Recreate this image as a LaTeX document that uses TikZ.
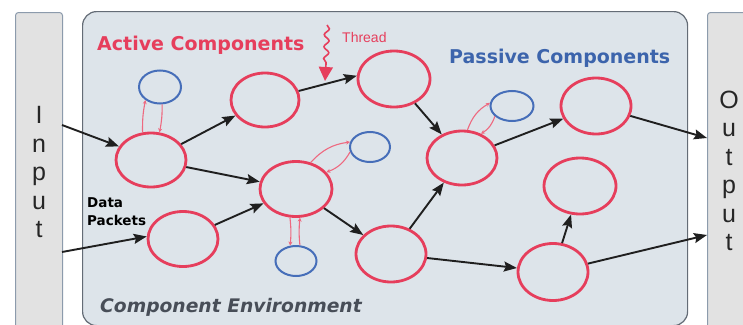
\documentclass[tikz,border=0pt]{standalone}
\usepackage{fontspec}
\newfontfamily\djv{DejaVu Sans}
\newfontfamily\lib{Liberation Sans}
\usetikzlibrary{arrows.meta,decorations.pathmorphing,shapes.geometric}
\definecolor{cred}{RGB}{230,62,92}
\definecolor{clink}{RGB}{238,105,128}
\definecolor{cblue}{RGB}{70,110,185}
\definecolor{ctblue}{RGB}{60,100,172}
\definecolor{envfill}{RGB}{221,228,234}
\definecolor{envdraw}{RGB}{100,108,118}
\definecolor{iofill}{RGB}{226,226,226}
\definecolor{iodraw}{RGB}{140,155,172}
\definecolor{envtext}{RGB}{72,78,88}
\begin{document}
\begin{tikzpicture}[x=1pt,y=-1pt,
  active/.style={ellipse, draw=cred, line width=2.8pt, inner sep=0pt},
  passive/.style={ellipse, draw=cblue, line width=2pt, inner sep=0pt},
  flow/.style={draw=black!88, line width=1.9pt, -{Stealth[length=13pt,width=10pt,inset=2pt]}},
  link/.style={draw=clink, line width=1.1pt, -{Stealth[length=4pt,width=4pt]}},
  iobox/.style={rectangle, draw=iodraw, fill=iofill, line width=1pt, rounded corners=3pt, anchor=north west, inner sep=0pt},
  iotext/.style={font=\lib\fontsize{25}{28.5}\selectfont, align=center, inner sep=0pt, text=black!85},
  title/.style={font=\djv\bfseries\fontsize{19}{22}\selectfont, anchor=base west, inner sep=0pt}
]
\useasboundingbox (0,0) rectangle (743,324);
\fill[white] (0,0) rectangle (743,324);

% boxes
\node[iobox, minimum width=47pt, minimum height=330pt] (In) at (15,12) {};
\node[iobox, minimum width=60pt, minimum height=330pt] (Out) at (707,12) {};
\node[rectangle, draw=envdraw, fill=envfill, line width=1.2pt, rounded corners=14pt, anchor=north west, inner sep=0pt, minimum width=605pt, minimum height=314pt] (Env) at (82,11) {};

\node[iotext] (InTxt) at (39,172) {I\\n\\p\\u\\t};
\node[iotext] (OutTxt) at (729,171) {O\\u\\t\\p\\u\\t};

% texts
\node[title, text=cred] (ActT) at (97,50) {Active Components};
\node[title, text=ctblue] (PasT) at (449,63) {Passive Components};
\node[font=\djv\bfseries\itshape\fontsize{18.7}{22}\selectfont, anchor=base west, inner sep=0pt, text=envtext] (EnvT) at (100,312) {Component Environment};
\node[font=\djv\bfseries\fontsize{13.5}{18}\selectfont, anchor=base west, inner sep=0pt, align=left] (DataT) at (87,225) {Data\\Packets};
\node[font=\lib\fontsize{14}{16}\selectfont, anchor=base west, inner sep=0pt, text=cred] (ThrT) at (342,42) {Thread};

% thread arrow
\coordinate (tA) at (327,25);
\coordinate (tM) at (326,64);
\coordinate (tB) at (325,81);
\draw[cred, line width=1.6pt, decorate, decoration={snake, amplitude=2.5pt, segment length=12pt}] (tA) -- (tM);
\draw[cred, line width=1.6pt, -{Triangle[length=14pt,width=14pt]}] (tM) -- (tB);

% active components
\node[active, minimum width=70pt, minimum height=54pt] (A1) at (151,160) {};
\node[active, minimum width=68pt, minimum height=54pt] (A2) at (265,100) {};
\node[active, minimum width=72pt, minimum height=56pt] (A3) at (394,79) {};
\node[active, minimum width=72pt, minimum height=55pt] (A4) at (296,189) {};
\node[active, minimum width=70pt, minimum height=55pt] (A5) at (183,239) {};
\node[active, minimum width=70pt, minimum height=56pt] (A6) at (391,254) {};
\node[active, minimum width=70pt, minimum height=54pt] (A7) at (462,158) {};
\node[active, minimum width=70pt, minimum height=56pt] (A8) at (596,106) {};
\node[active, minimum width=72pt, minimum height=56pt] (A9) at (580,186) {};
\node[active, minimum width=70pt, minimum height=57pt] (A10) at (553,272) {};

% passive components
\node[passive, minimum width=42pt, minimum height=33pt] (B1) at (160,87) {};
\node[passive, minimum width=40pt, minimum height=30pt] (B2) at (370,147) {};
\node[passive, minimum width=41pt, minimum height=30pt] (B3) at (296,261) {};
\node[passive, minimum width=43pt, minimum height=30pt] (B4) at (512,106) {};

% links active <-> passive
\draw[link] (A1.107) to[bend left=6] (B1.222);
\draw[link] (B1.277) to[bend left=6] (A1.73);
\draw[link] (A4.61) to[bend left=20] (B2.166);
\draw[link] (B2.194) to[bend left=20] (A4.29);
\draw[link] (A4.258) to[bend left=6] (B3.111);
\draw[link] (B3.76) to[bend left=6] (A4.278);
\draw[link] (A7.79) to[bend left=20] (B4.172);
\draw[link] (B4.211) to[bend left=20] (A7.52);

% io coordinates
\coordinate (iA) at (62,125);
\coordinate (iB) at (62,252);
\coordinate (oA) at (707,138);
\coordinate (oB) at (707,235);

% flows
\draw[flow] (iA) -- (A1.157);
\draw[flow] (iB) -- (A5.176);
\draw[flow] (A1) -- (A2);
\draw[flow] (A1) -- (A4);
\draw[flow] (A5) -- (A4);
\draw[flow] (A2.15) -- (A3.175);
\draw[flow] (A3) -- (A7);
\draw[flow] (A4) -- (A6);
\draw[flow] (A6) -- (A7);
\draw[flow] (A6) -- (A10);
\draw[flow] (A7) -- (A8);
\draw[flow] (A8) -- (oA);
\draw[flow] (A10) -- (A9);
\draw[flow] (A10) -- (oB);
\end{tikzpicture}
\end{document}
